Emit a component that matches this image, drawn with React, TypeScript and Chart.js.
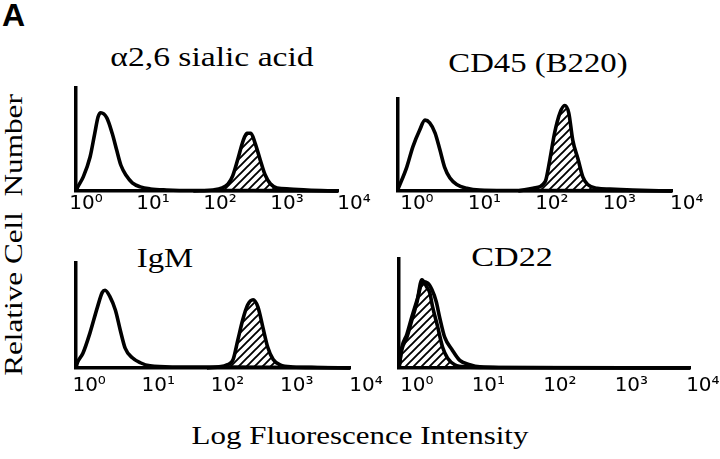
import React, { useEffect, useRef } from "react";
import { Chart, registerables } from "chart.js";

Chart.register(...registerables);

// ---- tick values (log10 of fluorescence intensity) and labels ----
const tickValues = [0, 1, 2, 3, 4];
const tickLabels = ["10⁰", "10¹", "10²", "10³", "10⁴"];

// ---- panel titles ----
const panelTitles = ["α2,6 sialic acid", "CD45 (B220)", "IgM", "CD22"];

// ---- α2,6 sialic acid ----
const sialicOpenX = [-0.15, -0.13, -0.04, 0.06, 0.13, 0.18, 0.22, 0.31, 0.39, 0.46, 0.52, 0.6, 0.69, 0.81, 0.96, 1.2, 1.6, 2.0, 2.5, 3.0, 3.76];
const sialicOpenY = [0, 3, 14, 33, 56, 72, 76, 71, 56, 39, 25, 15, 8, 4, 2, 1, 0.5, 0.5, 0.5, 0.3, 0];
const sialicStainX = [1.6, 1.9, 2.03, 2.12, 2.19, 2.27, 2.34, 2.4, 2.46, 2.52, 2.6, 2.67, 2.75, 2.85, 3.04, 3.3, 3.76];
const sialicStainY = [0, 1, 3, 7, 15, 32, 48, 56, 56, 47, 30, 16, 7, 3, 2, 1, 0];

// ---- CD45 (B220) ----
const cd45OpenX = [-0.28, -0.15, -0.06, 0.04, 0.12, 0.19, 0.27, 0.34, 0.41, 0.49, 0.59, 0.74, 0.93, 1.3, 2.0, 3.78];
const cd45OpenY = [2, 26, 48, 66, 77, 74, 63, 45, 26, 14, 7, 3, 1, 0.5, 0.5, 0];
const cd45StainX = [1.5, 1.72, 1.9, 1.97, 2.04, 2.12, 2.19, 2.25, 2.31, 2.39, 2.46, 2.53, 2.67, 2.86, 3.2, 3.78];
const cd45StainY = [0, 3, 10, 34, 63, 85, 93, 85, 55, 34, 15, 7, 3, 2, 1, 0];

// ---- IgM ----
const igmOpenX = [-0.19, -0.17, -0.09, 0.01, 0.12, 0.19, 0.23, 0.3, 0.38, 0.45, 0.52, 0.62, 0.74, 0.88, 1.2, 1.8, 2.0, 3.77];
const igmOpenY = [0, 5, 14, 33, 58, 72, 74, 68, 55, 36, 19, 10, 5, 2, 1, 1, 1, 0];
const igmStainX = [1.7, 1.99, 2.08, 2.15, 2.22, 2.29, 2.37, 2.44, 2.51, 2.58, 2.66, 2.76, 2.94, 3.3, 3.77];
const igmStainY = [0, 3, 8, 27, 46, 60, 65, 58, 39, 20, 8, 3, 1, 0.5, 0];

// ---- CD22 ----
const cd22OpenX = [-0.25, -0.21, -0.14, -0.07, 0.01, 0.08, 0.15, 0.21, 0.27, 0.32, 0.39, 0.49, 0.6, 0.74, 0.88, 1.2, 3.82];
const cd22OpenY = [0, 19, 31, 47, 64, 79, 78, 72, 61, 46, 28, 17, 7, 3, 1, 0.5, 0];
const cd22StainX = [-0.25, -0.21, -0.14, -0.07, 0.0, 0.07, 0.14, 0.18, 0.22, 0.29, 0.36, 0.43, 0.53, 0.7, 1.0, 3.82];
const cd22StainY = [0, 17, 28, 44, 60, 81, 74, 69, 56, 38, 19, 9, 3, 1, 0.5, 0];

type Area = { left: number; top: number; right: number; bottom: number };
type Panel = {
  openX: number[]; openY: number[]; stainX: number[]; stainY: number[];
  area: Area; min: number; max: number; labelPad: number;
};

const panels: Panel[] = [
  { openX: sialicOpenX, openY: sialicOpenY, stainX: sialicStainX, stainY: sialicStainY,
    area: { left: 76, top: 88, right: 338, bottom: 191 }, min: -0.15, max: 3.76, labelPad: 1 },
  { openX: cd45OpenX, openY: cd45OpenY, stainX: cd45StainX, stainY: cd45StainY,
    area: { left: 398, top: 99, right: 672, bottom: 191 }, min: -0.28, max: 3.78, labelPad: 1 },
  { openX: igmOpenX, openY: igmOpenY, stainX: igmStainX, stainY: igmStainY,
    area: { left: 76, top: 263, right: 350, bottom: 368 }, min: -0.19, max: 3.77, labelPad: 6 },
  { openX: cd22OpenX, openY: cd22OpenY, stainX: cd22StainX, stainY: cd22StainY,
    area: { left: 399, top: 259, right: 690, bottom: 368 }, min: -0.25, max: 3.82, labelPad: 6 },
];

const PAD = { l: 20, t: 10, r: 40, b: 34 };

function points(xs: number[], ys: number[]) {
  return xs.map((x, i) => ({ x, y: ys[i] }));
}

function makeHatch(): CanvasPattern | string {
  const c = document.createElement("canvas");
  c.width = 8;
  c.height = 8;
  const g = c.getContext("2d");
  if (!g) return "rgba(0,0,0,0.3)";
  g.strokeStyle = "#000";
  g.lineWidth = 1.9;
  g.beginPath();
  g.moveTo(-1, 9);
  g.lineTo(9, -1);
  g.moveTo(-3, 3);
  g.lineTo(3, -3);
  g.moveTo(5, 11);
  g.lineTo(11, 5);
  g.stroke();
  return g.createPattern(c, "repeat") || "rgba(0,0,0,0.3)";
}

const tickFont = { family: "DejaVu Sans", size: 20 };

function HistPanel({ panel }: { panel: Panel }) {
  const ref = useRef<HTMLCanvasElement | null>(null);
  const { area } = panel;
  const w = area.right - area.left + PAD.l + PAD.r;
  const h = area.bottom - area.top + PAD.t + PAD.b;

  useEffect(() => {
    if (!ref.current) return;
    const hatch = makeHatch();
    const chart = new Chart(ref.current, {
      type: "line",
      data: {
        datasets: [
          {
            data: points(panel.openX, panel.openY),
            borderColor: "#000",
            borderWidth: 3.6,
            fill: false,
            pointRadius: 0,
            cubicInterpolationMode: "monotone",
            clip: false as any,
          },
          {
            data: points(panel.stainX, panel.stainY),
            borderColor: "#000",
            borderWidth: 3.6,
            backgroundColor: hatch as any,
            fill: "origin",
            pointRadius: 0,
            cubicInterpolationMode: "monotone",
            clip: false as any,
          },
        ],
      },
      options: {
        animation: false,
        responsive: false,
        events: [],
        layout: { padding: { left: PAD.l, top: PAD.t, right: PAD.r, bottom: 0 } },
        plugins: {
          legend: { display: false },
          tooltip: { enabled: false },
          title: { display: false },
        },
        scales: {
          x: {
            type: "linear",
            min: panel.min,
            max: panel.max,
            grid: { display: false, drawTicks: false },
            border: { display: true, color: "#000", width: 3.5 },
            ticks: {
              autoSkip: false,
              maxRotation: 0,
              padding: panel.labelPad,
              color: "#000",
              font: tickFont,
              callback: (_v: any, i: number) => tickLabels[i],
            },
            afterBuildTicks: (s: any) => {
              s.ticks = tickValues.map((v) => ({ value: v }));
            },
            afterFit: (s: any) => {
              s.height = PAD.b;
              s.paddingLeft = 0;
              s.paddingRight = 0;
            },
          },
          y: {
            type: "linear",
            min: 0,
            max: 100,
            grid: { display: false, drawTicks: false },
            border: { display: true, color: "#000", width: 3.5 },
            ticks: { display: false },
            afterFit: (s: any) => {
              s.width = 0;
              s.paddingTop = 0;
              s.paddingBottom = 0;
            },
          },
        },
      } as any,
    });
    return () => chart.destroy();
  }, [panel]);

  return (
    <canvas
      ref={ref}
      width={w}
      height={h}
      style={{
        position: "absolute",
        left: area.left - PAD.l,
        top: area.top - PAD.t,
        width: w,
        height: h,
      }}
    />
  );
}

type Label = { text: string; cx: number; cy: number; size: number; sx: number; rotate?: boolean };

const serif = '"Liberation Serif", "Times New Roman", serif';

const labels: Label[] = [
  { text: panelTitles[0], cx: 212, cy: 56.5, size: 28, sx: 1.2 },
  { text: panelTitles[1], cx: 538, cy: 62.5, size: 28, sx: 1.17 },
  { text: panelTitles[2], cx: 165, cy: 257.5, size: 28, sx: 1.17 },
  { text: panelTitles[3], cx: 512, cy: 256.5, size: 28, sx: 1.22 },
  { text: "Log Fluorescence Intensity", cx: 360, cy: 436.2, size: 26, sx: 1.19 },
  { text: "Relative Cell  Number", cx: 14.2, cy: 235, size: 26, sx: 1.2, rotate: true },
];

export default function App() {
  return (
    <div
      style={{
        position: "absolute",
        left: 0,
        top: 0,
        width: 720,
        height: 459,
        background: "#fff",
        overflow: "hidden",
      }}
    >
      <div
        style={{
          position: "absolute",
          left: 2,
          top: -1,
          fontFamily: '"Liberation Sans", Arial, sans-serif',
          fontWeight: 700,
          fontSize: 32,
          lineHeight: "32px",
          color: "#000",
        }}
      >
        A
      </div>
      {labels.map((l, i) => (
        <div
          key={i}
          style={{
            position: "absolute",
            left: l.cx,
            top: l.cy,
            fontFamily: serif,
            fontSize: l.size,
            lineHeight: `${l.size}px`,
            whiteSpace: "pre",
            color: "#000",
            transform: `translate(-50%, -50%)${l.rotate ? " rotate(-90deg)" : ""} scaleX(${l.sx})`,
          }}
        >
          {l.text}
        </div>
      ))}
      {panels.map((p, i) => (
        <HistPanel key={i} panel={p} />
      ))}
    </div>
  );
}
